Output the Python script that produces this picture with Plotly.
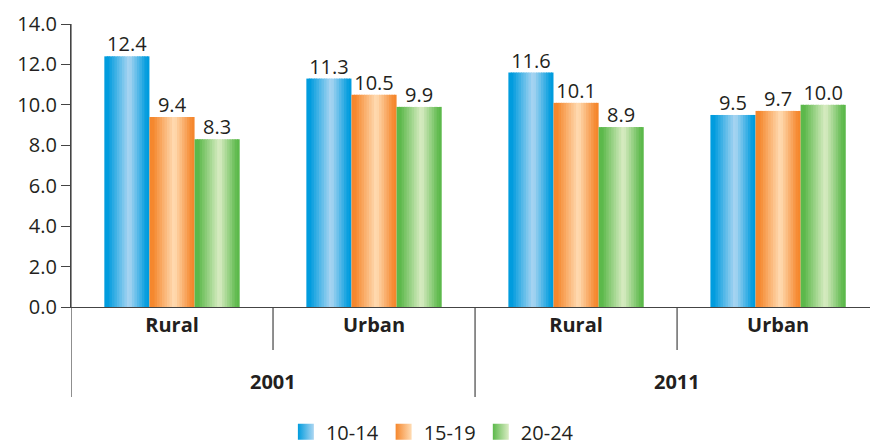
import plotly.graph_objects as go

# ---- data ----
years = ["2001", "2001", "2011", "2011"]
areas = ["Rural", "Urban", "Rural", "Urban"]
series_names = ["10-14", "15-19", "20-24"]
values_10_14 = [12.4, 11.3, 11.6, 9.5]
values_15_19 = [9.4, 10.5, 10.1, 9.7]
values_20_24 = [8.3, 9.9, 8.9, 10.0]
y_ticks = [0, 2, 4, 6, 8, 10, 12, 14]

series_values = [values_10_14, values_15_19, values_20_24]
edge_colors = [(0, 156, 222), (245, 135, 45), (92, 185, 75)]
light_colors = [(172, 214, 242), (255, 220, 180), (218, 236, 196)]

TXT = "#231F20"
FONT = "Open Sans"
FS = 20
x_pos = list(range(len(areas)))

group_w = 0.67
bar_w = group_w / 3
N = 18


def rgb(c):
    return "rgb(%d,%d,%d)" % tuple(round(v) for v in c)


def mix(c1, c2, f):
    return rgb(tuple(a + (b - a) * f for a, b in zip(c1, c2)))


def profile(t):
    # 0 = edge colour, 1 = highlight
    if t < 0.08 or t > 0.94:
        return 0.0
    if t <= 0.55:
        return (t - 0.08) / (0.55 - 0.08)
    return (0.94 - t) / (0.94 - 0.55)


fig = go.Figure()
for s, vals in enumerate(series_values):
    left = -group_w / 2 + s * bar_w
    sw = bar_w / N
    for k in range(N):
        t = (k + 0.5) / N
        col = mix(edge_colors[s], light_colors[s], profile(t))
        w = sw * 1.35 if k < N - 1 else sw
        fig.add_trace(go.Bar(
            x=x_pos, y=vals, width=[w] * 4, offset=[left + k * sw] * 4,
            marker=dict(color=col, line=dict(width=0)),
            showlegend=False, hoverinfo="skip",
        ))
    # value labels
    fig.add_trace(go.Scatter(
        x=[xp + left + bar_w / 2 for xp in x_pos], y=vals,
        mode="text", text=["%.1f" % v for v in vals],
        textposition="top center",
        textfont=dict(family=FONT, size=FS, color=TXT),
        showlegend=False, hoverinfo="skip",
    ))

# legend entries
for s, name in enumerate(series_names):
    fig.add_trace(go.Scatter(
        x=[None], y=[None], name=name, mode="markers",
        marker=dict(symbol="square", size=16, color=rgb(edge_colors[s]),
                    gradient=dict(type="horizontal", color=rgb(light_colors[s])),
                    line=dict(width=0)),
    ))

shapes = []
# y axis line extended below
shapes.append(dict(type="line", xref="x", yref="paper", x0=-0.5, x1=-0.5, y0=1, y1=-0.318,
                   line=dict(color="#444", width=1.2)))
# dividers
for xd, ybot in [(0.5, -0.152), (1.5, -0.318), (2.5, -0.152)]:
    shapes.append(dict(type="line", xref="x", yref="paper", x0=xd, x1=xd, y0=0, y1=ybot,
                       line=dict(color="#444", width=1.2)))

annotations = []
for xc, yr in [(0.5, "2001"), (2.5, "2011")]:
    annotations.append(dict(x=xc, y=-0.265, xref="x", yref="paper", text="<b>%s</b>" % yr,
                            showarrow=False, font=dict(family=FONT, size=FS, color=TXT),
                            xanchor="center", yanchor="middle"))

fig.update_layout(
    width=870, height=447,
    margin=dict(l=71, r=0, t=24, b=140),
    paper_bgcolor="white", plot_bgcolor="white",
    barmode="overlay",
    showlegend=True,
    legend=dict(orientation="h", xref="container", yref="container",
                x=0.497, y=0.034, xanchor="center", yanchor="middle",
                font=dict(family=FONT, size=FS, color=TXT), itemwidth=30,
                itemsizing="trace", traceorder="normal"),
    shapes=shapes, annotations=annotations,
    xaxis=dict(range=[-0.5, 3.455], tickmode="array", tickvals=x_pos,
               ticktext=["<b>%s</b>" % a for a in areas],
               tickfont=dict(family=FONT, size=FS, color=TXT),
               showline=True, linecolor="#444", linewidth=1.2, automargin=False,
               ticks="", showgrid=False, zeroline=False, fixedrange=True),
    yaxis=dict(range=[0, 14], tickmode="array", tickvals=y_ticks,
               ticktext=["%.1f" % v for v in y_ticks],
               tickfont=dict(family=FONT, size=FS, color=TXT), automargin=False,
               showline=True, linecolor="#444", linewidth=1.2,
               ticks="outside", ticklen=9, tickcolor="#444", tickwidth=1.2,
               showgrid=False, zeroline=False),
    font=dict(family=FONT, color=TXT),
)

fig.write_html("out.html", config={"displayModeBar": False},
               post_script="document.body.style.margin='0';")
